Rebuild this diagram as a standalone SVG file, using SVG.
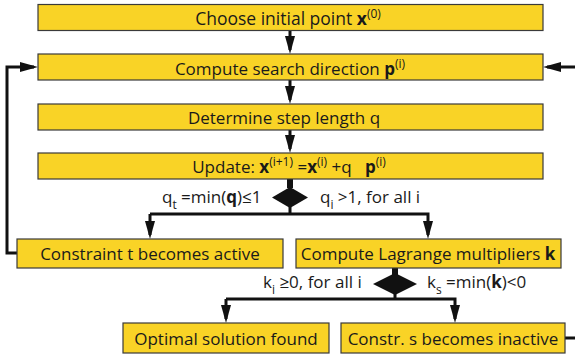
<svg xmlns="http://www.w3.org/2000/svg" width="575" height="360" viewBox="0 0 575 360">
<defs>
<style>
.box{fill:#F9D326;stroke:#3a3a3a;stroke-width:1.2}
.t{font-family:"Open Sans","DejaVu Sans",sans-serif;font-size:17px;fill:#1a1a1a;text-anchor:middle}
.l{font-family:"Open Sans","DejaVu Sans",sans-serif;font-size:17px;fill:#1a1a1a}
.sup{font-size:12px}
.sub{font-size:12px}
.b{font-weight:bold}
.c{fill:none;stroke:#111;stroke-width:3}
.d{fill:#111;stroke:none}
</style>
<marker id="ah" markerUnits="userSpaceOnUse" viewBox="0 0 18 10" refX="14" refY="5" markerWidth="18" markerHeight="10" orient="auto">
<path d="M0,0 L18,5 L0,10 z" fill="#111"/>
</marker>
</defs>
<g id="connectors">
<path class="c" d="M290,31 V50" marker-end="url(#ah)"/>
<path class="c" d="M290,80 V100" marker-end="url(#ah)"/>
<path class="c" d="M290,130 V149" marker-end="url(#ah)"/>
<path class="c" d="M17,253 H7 V67 H34" marker-end="url(#ah)"/>
<path class="c" d="M565,338 H580 V67 H547" marker-end="url(#ah)"/>
<rect class="d" x="287" y="179" width="6" height="9"/>
<polygon class="d" points="290,187 308,197.5 290,208 272,197.5"/>
<path class="c" d="M290,207 V214"/>
<path class="c" d="M150,214 H428 V235" marker-end="url(#ah)"/>
<path class="c" d="M150,214 V235" marker-end="url(#ah)"/>
<rect class="d" x="392" y="268" width="6" height="7"/>
<polygon class="d" points="395,273 417,284 395,295 373,284"/>
<path class="c" d="M395,294 V299"/>
<path class="c" d="M226,299 H455 V319" marker-end="url(#ah)"/>
<path class="c" d="M226,299 V319" marker-end="url(#ah)"/>
</g>
<g id="n1"><rect class="box" x="38" y="4.5" width="505" height="26"/>
<text class="t" x="288" y="25" style="font-size:17.5px">Choose initial point <tspan class="b">x</tspan><tspan class="sup" dy="-7">(0)</tspan></text></g>
<g id="n2"><rect class="box" x="38" y="54" width="505" height="26"/>
<text class="t" x="290" y="74.5">Compute search direction <tspan class="b">p</tspan><tspan class="sup" dy="-7">(i)</tspan></text></g>
<g id="n3"><rect class="box" x="38" y="104" width="505" height="26"/>
<text class="t" x="284" y="124">Determine step length q</text></g>
<g id="n4"><rect class="box" x="38" y="153" width="505" height="26"/>
<text class="t" x="289" y="173" xml:space="preserve">Update: <tspan class="b">x</tspan><tspan class="sup" dy="-7">(i+1)</tspan><tspan dy="7"> =</tspan><tspan class="b">x</tspan><tspan class="sup" dy="-7">(i)</tspan><tspan dy="7"> +q   </tspan><tspan class="b">p</tspan><tspan class="sup" dy="-7">(i)</tspan></text></g>
<g id="n5"><rect class="box" x="17" y="239" width="266" height="29"/>
<text class="t" x="150" y="260">Constraint t becomes active</text></g>
<g id="n6"><rect class="box" x="296" y="239" width="265" height="29"/>
<text class="t" x="428" y="260">Compute Lagrange multipliers <tspan class="b">k</tspan></text></g>
<g id="n7"><rect class="box" x="123" y="323" width="206" height="30"/>
<text class="t" x="226" y="345">Optimal solution found</text></g>
<g id="n8"><rect class="box" x="341" y="323" width="224" height="30"/>
<text class="t" x="453" y="345">Constr. s becomes inactive</text></g>
<g id="labels">
<text class="l" x="162" y="203">q<tspan class="sub" dy="6">t</tspan><tspan dy="-6"> =min(</tspan><tspan class="b">q</tspan>)≤1</text>
<text class="l" x="320" y="203">q<tspan class="sub" dy="6">i</tspan><tspan dy="-6"> &gt;1, for all i</tspan></text>
<text class="l" x="263" y="288">k<tspan class="sub" dy="6">i</tspan><tspan dy="-6"> ≥0, for all i</tspan></text>
<text class="l" x="427" y="288">k<tspan class="sub" dy="6">s</tspan><tspan dy="-6"> =min(</tspan><tspan class="b">k</tspan>)&lt;0</text>
</g>
</svg>
